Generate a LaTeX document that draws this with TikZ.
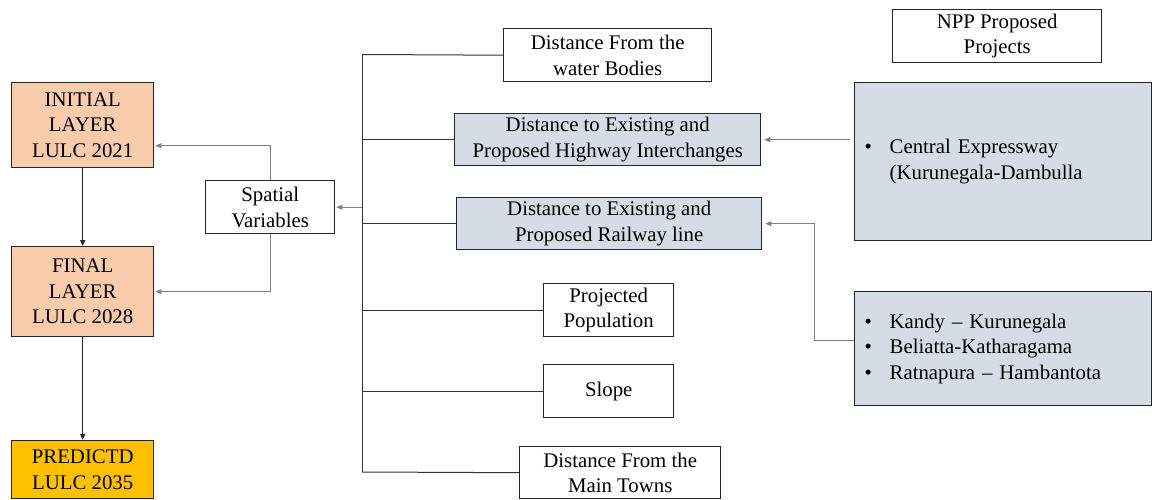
\documentclass[tikz,border=0pt]{standalone}
\usepackage{fontspec}
\setmainfont{Liberation Serif}
\usetikzlibrary{arrows.meta}
\definecolor{peach}{HTML}{F8CBAD}
\definecolor{gold}{HTML}{FFC000}
\definecolor{bluegray}{HTML}{D6DCE5}
\definecolor{edge}{HTML}{262626}
\definecolor{conn}{HTML}{808080}
\begin{document}
\begin{tikzpicture}[x=1pt,y=-1pt,
  box/.style={draw=edge, line width=1.4pt, inner sep=0pt, anchor=north west, align=center,
    font=\fontsize{20.8}{25.5}\selectfont},
  peachbox/.style={box, fill=peach},
  goldbox/.style={box, fill=gold},
  bluebox/.style={box, fill=bluegray},
  listbox/.style={box, fill=bluegray, align=left, text width=277pt, inner xsep=10pt},
  tip/.style={-{Triangle[length=6pt,width=5pt]}},
  darkline/.style={line width=1.3pt, draw=black!85, tip},
  greyline/.style={line width=0.9pt, draw=conn},
  busline/.style={line width=1pt, draw=black!80}
]
\useasboundingbox (0,0) rectangle (1152,500);

% left column
\node[peachbox, minimum width=142pt, minimum height=85pt] (init) at (11,82) {INITIAL\\LAYER\\LULC 2021};
\node[peachbox, minimum width=142pt, minimum height=90pt] (final) at (11,246) {FINAL\\LAYER\\LULC 2028};
\node[goldbox, minimum width=142pt, minimum height=58pt] (pred) at (11,440) {PREDICTD\\LULC 2035};
\node[box, minimum width=129pt, minimum height=53pt] (sv) at (205,180) {Spatial\\Variables};

% middle column
\node[box, minimum width=208pt, minimum height=53pt] (water) at (503,28) {Distance From the\\water Bodies};
\node[bluebox, minimum width=306pt, minimum height=52pt] (hw) at (454,113) {Distance to Existing and\\Proposed Highway Interchanges};
\node[bluebox, minimum width=305pt, minimum height=52pt] (rw) at (456,197) {Distance to Existing and\\Proposed Railway line};
\node[box, minimum width=130pt, minimum height=53pt] (pop) at (543,283) {Projected\\Population};
\node[box, minimum width=130pt, minimum height=53pt] (slope) at (543,364) {Slope};
\node[box, minimum width=201pt, minimum height=52pt] (towns) at (519,446) {Distance From the\\Main Towns};

% right column
\node[box, minimum width=209pt, minimum height=53pt] (npp) at (892,9) {NPP Proposed\\Projects};
\node[listbox, minimum height=158pt] (ce) at (854,82)
  {\makebox[25pt][l]{\textbullet}Central Expressway\\\hspace*{25pt}(Kurunegala-Dambulla};
\node[listbox, minimum height=114pt] (rb) at (854,291)
  {\makebox[25pt][l]{\textbullet}Kandy – Kurunegala\\\makebox[25pt][l]{\textbullet}Beliatta-Katharagama\\\makebox[25pt][l]{\textbullet}Ratnapura – Hambantota};

% bus
\coordinate (btop) at (362,54.5);
\coordinate (bbot) at (362,472);
\draw[busline] (btop) -- (bbot);
\draw[busline] (btop) -- (water.west);
\draw[busline] (btop |- hw.west) -- (hw.west);
\draw[busline] (btop |- rw.west) -- (rw.west);
\draw[busline] (btop |- pop.west) -- (pop.west);
\draw[busline] (btop |- slope.west) -- (slope.west);
\draw[busline] (bbot) -- (towns.west);
\draw[greyline, tip] (btop |- sv.east) -- ([xshift=1pt]sv.east);

% left connectors
\draw[darkline] (init.south) -- (final.north);
\draw[darkline] (final.south) -- (pred.north);
\draw[greyline, tip] (sv.north) |- ([xshift=1pt,yshift=-20.5pt]init.east);
\draw[greyline, tip] (sv.south) |- ([xshift=1pt]final.east);

% right connectors
\draw[greyline, tip] ([xshift=-4pt]ce.west |- hw.east) -- ([xshift=3pt]hw.east);
\draw[greyline, tip] ([yshift=8pt]rb.west) -| ([xshift=52pt]rw.east) -- ([xshift=3pt]rw.east);
\end{tikzpicture}
\end{document}
